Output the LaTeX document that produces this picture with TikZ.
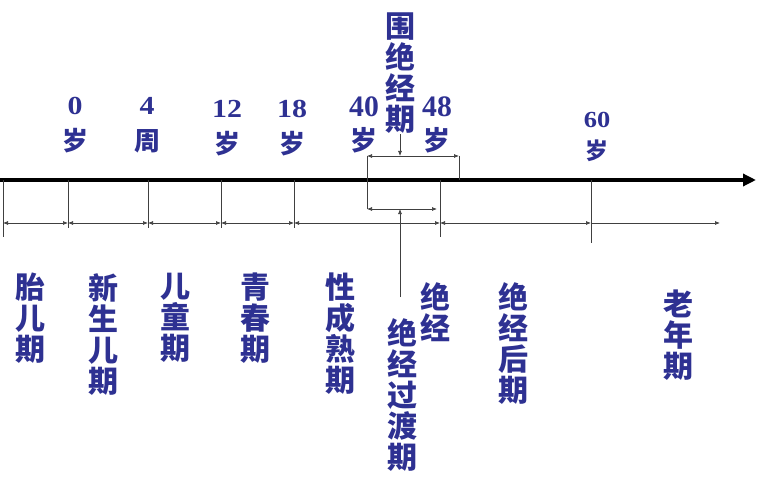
\documentclass[tikz,border=0pt]{standalone}
\usepackage{fontspec}
\setmainfont{Liberation Serif}
\newfontfamily\cjk{Noto Sans CJK SC}
\newfontfamily\numfont{Liberation Serif}[Scale=1.0, FakeStretch=1.15]
\newfontfamily\bignum{Liberation Serif}[Scale=1.1]
\usetikzlibrary{arrows.meta}
\definecolor{labelblue}{RGB}{46,49,146}
\tikzset{
	axisline/.style = {line width=3.5pt, -{Triangle[length=13pt,width=12pt]}},
	tickline/.style = {line width=0.7pt, black!75},
	dimline/.style = {line width=0.7pt, black!75,
		{Latex[length=5pt,width=4pt]}-{Latex[length=5pt,width=4pt]}},% both ends
	dimend/.style = {line width=0.7pt, black!75, -{Latex[length=5pt,width=4pt]}},% one end
	agelab/.style = {align=center, inner sep=0pt, text=labelblue,
		font=\cjk\bfseries\fontsize{26}{36}\selectfont},% age above the axis
	agebig/.style = {agelab, font=\cjk\bfseries\fontsize{27}{34}\selectfont},
	agesmall/.style = {agelab, font=\cjk\bfseries\fontsize{23}{32}\selectfont},
	stagelab/.style = {align=center, inner sep=0pt, text=labelblue,
		font=\cjk\bfseries\fontsize{30}{31}\selectfont}% stage below the axis
}
\begin{document}
\begin{tikzpicture}[x=1pt,y=-1pt]
	\useasboundingbox (0,0) rectangle (758,500);
	% time axis
	\coordinate (ax0) at (0,180);
	\coordinate (ax1) at (756,180);
	\draw[axisline] (ax0) -- (ax1);
	% ticks and the row of stage arrows
	\foreach \x/\e [count=\i] in {3/237, 68/228, 148/228, 221/228, 294/228, 440/237, 591/243} {
		\coordinate (t\i) at (\x,180);
		\coordinate (e\i) at (\x,\e);
		\coordinate (d\i) at (\x,223);
		\draw[tickline] (t\i) -- (e\i);
	}
	\foreach \a/\b in {1/2, 2/3, 3/4, 4/5, 5/6, 6/7}
		\draw[dimline] (d\a) -- (d\b);
	\coordinate (dend) at (720,223);
	\draw[dimend] (d7) -- (dend);
	% bracket of the perimenopause
	\coordinate (b1) at (367,156);
	\coordinate (b2) at (459,156);
	\coordinate (b3) at (459,180);
	\coordinate (b4) at (367,209);
	\coordinate (b5) at (437,209);
	\draw[tickline] (b1) -- (b4);
	\draw[dimline] (b1) -- (b2);
	\draw[tickline] (b2) -- (b3);
	\draw[dimline] (b4) -- (b5);
	% ages
	\node[agelab, anchor=north] (a0) at (75,97) {{\numfont 0}\\岁};
	\node[agelab, anchor=north] (a4) at (147,97) {{\numfont 4}\\周};
	\node[agelab, anchor=north] (a12) at (227,100) {{\numfont 12}\\岁};
	\node[agelab, anchor=north] (a18) at (292,100) {{\numfont 18}\\岁};
	\node[agebig, anchor=north] (a40) at (364,97) {{\bignum 40}\\岁};
	\node[agebig, anchor=north] (a48) at (437,97) {{\bignum 48}\\岁};
	\node[agesmall, anchor=north] (a60) at (597,112) {{\numfont 60}\\岁};
	% stages
	\node[stagelab, anchor=north] (peri) at (400,13) {围\\绝\\经\\期};
	\node[stagelab, anchor=north] (s1) at (30,273) {胎\\儿\\期};
	\node[stagelab, anchor=north] (s2) at (103,273) {新\\生\\儿\\期};
	\node[stagelab, anchor=north] (s3) at (175,273) {儿\\童\\期};
	\node[stagelab, anchor=north] (s4) at (255,273) {青\\春\\期};
	\node[stagelab, anchor=north] (s5) at (340,273) {性\\成\\熟\\期};
	\node[stagelab, anchor=north] (s6) at (435,282) {绝\\经};
	\node[stagelab, anchor=north] (s7) at (402,318) {绝\\经\\过\\渡\\期};
	\node[stagelab, anchor=north] (s8) at (513,282) {绝\\经\\后\\期};
	\node[stagelab, anchor=north] (s9) at (678,290) {老\\年\\期};
	% pointers to the bracket
	\coordinate (pu) at (400,156);
	\coordinate (pl) at (400,209);
	\coordinate (tr) at (400,297);
	\draw[dimend] (peri.south) -- (pu);
	\draw[dimend] (tr) -- (pl);
\end{tikzpicture}
\end{document}
